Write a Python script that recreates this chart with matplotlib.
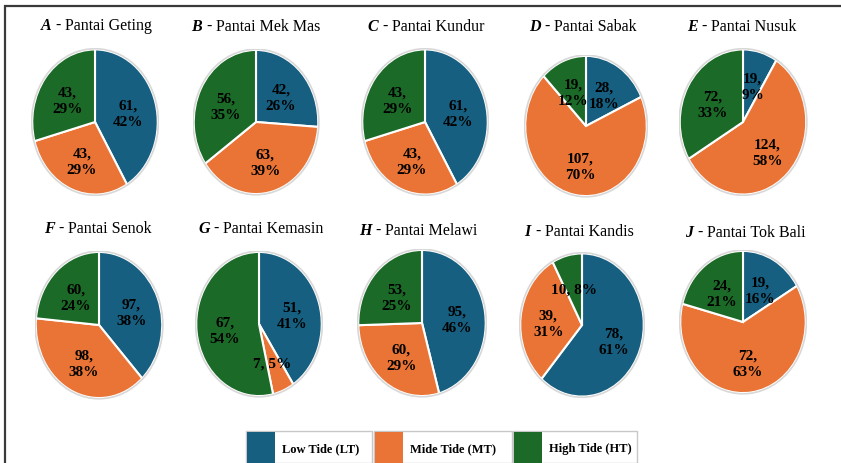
import matplotlib
matplotlib.use("Agg")
import numpy as np
import matplotlib.pyplot as plt
from matplotlib.patches import Rectangle, Ellipse
from matplotlib.offsetbox import TextArea, HPacker, AnchoredOffsetbox

plt.rcParams["font.family"] = ["Liberation Serif", "DejaVu Serif"]

# ---- data -------------------------------------------------------------
panel_letters = ["A", "B", "C", "D", "E", "F", "G", "H", "I", "J"]
beach_names = ["Pantai Geting", "Pantai Mek Mas", "Pantai Kundur", "Pantai Sabak",
               "Pantai Nusuk", "Pantai Senok", "Pantai Kemasin", "Pantai Melawi",
               "Pantai Kandis", "Pantai Tok Bali"]
tide_labels = ["Low Tide (LT)", "Mide Tide (MT)", "High Tide (HT)"]

low_tide = [61, 42, 61, 28, 19, 97, 51, 95, 78, 19]
mid_tide = [43, 63, 43, 107, 124, 98, 7, 60, 39, 72]
high_tide = [43, 56, 43, 19, 72, 60, 67, 53, 10, 24]

low_pct = [42, 26, 42, 18, 9, 38, 41, 46, 61, 16]
mid_pct = [29, 39, 29, 70, 58, 38, 5, 29, 31, 63]
high_pct = [29, 35, 29, 12, 33, 24, 54, 25, 8, 21]

colors = ["#165f80", "#ea7435", "#1b6a27"]

# ---- layout (pixels) --------------------------------------------------
W, H = 841, 464
fig = plt.figure(figsize=(W / 100, H / 100), dpi=100)
SERIF = "Liberation Serif"

# pie centre x, centre y, width, height
pie_boxes = [
    (95, 123, 128, 148), (256, 123, 127, 147), (425, 123, 128, 148),
    (586, 127, 124, 143), (743, 123, 129, 148),
    (99, 326, 129, 149), (259, 325, 128, 147), (422, 324, 130, 149),
    (582, 326, 126, 146), (743, 323, 128, 145),
]
title_pos = [
    (96, 26), (256, 27), (426, 27), (583, 27), (742, 27),
    (98, 229), (261, 229), (418, 231), (579, 232), (745, 233),
]


def fx(x):
    return x / W


def fy(y):
    return 1 - y / H


# outer frame
fig.add_artist(Rectangle((fx(5), fy(470)), 1.0, fy(7) - fy(470),
                         transform=fig.transFigure, fill=False,
                         edgecolor="#3a3a3a", linewidth=1.6))

for i in range(10):
    cx, cy, w, h = pie_boxes[i]
    ax = fig.add_axes([fx(cx - w / 2), fy(cy + h / 2), w / W, h / H])
    vals = [low_tide[i], mid_tide[i], high_tide[i]]
    pcts = [low_pct[i], mid_pct[i], high_pct[i]]
    ax.pie(vals, colors=colors, startangle=90, counterclock=False, radius=1.0,
           wedgeprops=dict(edgecolor="white", linewidth=1.5))
    ax.add_patch(Ellipse((0, 0), 2.02, 2.02, fill=False,
                         edgecolor="#d8d8d8", linewidth=1.2))
    # labels "count, pct%" at the wedge middles
    total = sum(vals)
    start = 90.0
    for v, p in zip(vals, pcts):
        span = 360.0 * v / total
        mid = np.deg2rad(start - span / 2)
        start -= span
        sep = " " if v <= 10 else "\n"
        ax.text(0.55 * np.cos(mid), 0.55 * np.sin(mid) - 0.03, f"{v},{sep}{p}%",
                ha="center", va="center", fontsize=11, fontweight="bold",
                family=SERIF, color="black", linespacing=1.35)
    ax.set_aspect("auto")
    ax.set_xlim(-1.02, 1.02)
    ax.set_ylim(-1.02, 1.02)
    ax.axis("off")

    # panel title: bold italic letter followed by the beach name
    t1 = TextArea(panel_letters[i], textprops=dict(fontsize=11.5, fontweight="bold",
                                                   fontstyle="italic", family=SERIF))
    t2 = TextArea("-", textprops=dict(fontsize=11.5, fontweight="bold", family=SERIF))
    t3 = TextArea(beach_names[i], textprops=dict(fontsize=11.5, family=SERIF,
                                                 fontweight="normal"))
    pack = HPacker(children=[t1, t2, t3], align="baseline", pad=0, sep=3)
    tx, ty = title_pos[i]
    box = AnchoredOffsetbox(loc="center", child=pack, pad=0, borderpad=0,
                            frameon=False, bbox_to_anchor=(fx(tx), fy(ty)),
                            bbox_transform=fig.transFigure)
    fig.add_artist(box)

# legend: one framed cell per tide class
cells = [(246, 372), (374, 512), (513, 637)]
top, bottom = 432, 464
for (x0, x1), lab, c in zip(cells, tide_labels, colors):
    fig.add_artist(Rectangle((fx(x0), fy(bottom)), (x1 - x0) / W, (bottom - top) / H,
                             transform=fig.transFigure, fill=False,
                             edgecolor="#c8c8c8", linewidth=1.0))
    fig.add_artist(Rectangle((fx(x0 + 1), fy(bottom)), 28 / W, (bottom - top - 1) / H,
                             transform=fig.transFigure, facecolor=c,
                             edgecolor="none"))
    fig.text(fx(x0 + 36), fy((top + bottom) / 2 + 1), lab, ha="left", va="center",
             fontsize=9, fontweight="bold", family=SERIF)

fig.savefig("out.png", dpi=100, facecolor="white")
